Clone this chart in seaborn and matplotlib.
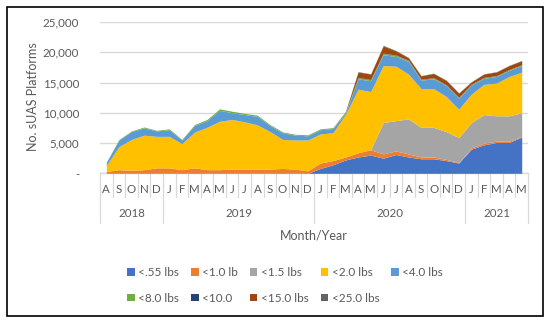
import numpy as np
import pandas as pd
import matplotlib
matplotlib.use("Agg")
import matplotlib.pyplot as plt
import matplotlib.transforms as mtransforms
from matplotlib.patches import Patch, Rectangle
import seaborn as sns

# ---------------- data ----------------
months = ["A", "S", "O", "N", "D",
          "J", "F", "M", "A", "M", "J", "J", "A", "S", "O", "N", "D",
          "J", "F", "M", "A", "M", "J", "J", "A", "S", "O", "N", "D",
          "J", "F", "M", "A", "M"]
years = ["2018", "2019", "2020", "2021"]
year_counts = [5, 12, 12, 5]

series_names = ["<.55 lbs", "<1.0 lb", "<1.5 lbs", "<2.0 lbs", "<4.0 lbs",
                "<8.0 lbs", "<10.0", "<15.0 lbs", "<25.0 lbs"]

lt055 = [0, 0, 0, 0, 0, 0, 0, 0, 0, 0, 0, 0, 0, 0, 0, 0, 0,
         800, 1400, 2200, 2700, 3000, 2500, 3100, 2700, 2400, 2400, 2100, 1700,
         4000, 4700, 5100, 5100, 6000]
lt10 = [300, 600, 500, 600, 900, 900, 600, 900, 600, 600, 700, 700, 700, 700, 800, 700, 400,
        900, 700, 500, 700, 900, 700, 600, 500, 300, 300, 200, 100,
        200, 300, 200, 200, 100]
lt15 = [0, 0, 0, 0, 0, 0, 0, 0, 0, 0, 0, 0, 0, 0, 0, 0, 0,
        0, 0, 0, 0, 0, 5200, 5000, 5800, 4900, 4900, 4600, 4100,
        4200, 4700, 4200, 4200, 3900]
lt20 = [1000, 3800, 5100, 5700, 5200, 5200, 4300, 5900, 7000, 8000, 8200, 7800, 7300, 6200, 4800, 4800, 5100,
        4800, 4600, 7000, 10500, 9600, 9400, 9000, 7400, 6400, 6400, 5800, 4700,
        4700, 5000, 5400, 6500, 6700]
lt40 = [500, 1100, 1300, 1200, 900, 1100, 600, 1100, 1100, 1800, 1100, 1200, 1400, 1000, 1100, 800, 700,
        700, 700, 200, 1700, 1800, 1800, 1600, 2100, 1400, 1600, 1800, 1800,
        1500, 1000, 1100, 1000, 1100]
lt80 = [50, 100, 100, 150, 100, 150, 100, 150, 200, 250, 250, 200, 200, 150, 150, 150, 150,
        150, 150, 200, 200, 150, 200, 200, 150, 100, 150, 100, 100,
        100, 100, 100, 100, 100]
lt100 = [0, 0, 0, 0, 0, 0, 0, 0, 0, 0, 0, 0, 0, 0, 0, 0, 0,
         0, 0, 0, 50, 50, 50, 50, 50, 50, 50, 50, 50,
         50, 50, 50, 50, 50]
lt150 = [0, 0, 0, 0, 0, 0, 0, 0, 0, 0, 0, 0, 0, 0, 0, 0, 0,
         0, 0, 100, 900, 900, 1200, 700, 400, 550, 700, 700, 700,
         350, 550, 600, 650, 650]
lt250 = [0, 0, 0, 0, 0, 0, 0, 0, 0, 0, 0, 0, 0, 0, 0, 0, 0,
         0, 0, 0, 50, 50, 100, 50, 50, 50, 50, 50, 50,
         50, 50, 50, 50, 50]

colors = ["#4472C4", "#ED7D31", "#A5A5A5", "#FFC000", "#5B9BD5",
          "#70AD47", "#264478", "#9E480E", "#636363"]

df = pd.DataFrame({n: v for n, v in zip(series_names,
                  [lt055, lt10, lt15, lt20, lt40, lt80, lt100, lt150, lt250])})

# ---------------- style ----------------
sns.set_theme(style="white")
plt.rcParams["font.family"] = ["Lato", "DejaVu Sans"]
txt = "#595959"
fs = 8.3

W, H = 550, 322
fig = plt.figure(figsize=(W / 100, H / 100), dpi=100)
ax_l, ax_r, ax_t, ax_b = 100, 528, 22, 173.3
ax = fig.add_axes([ax_l / W, 1 - ax_b / H, (ax_r - ax_l) / W, (ax_b - ax_t) / H])

x = np.arange(len(months))
palette = sns.color_palette(colors)
ax.stackplot(x, *[df[c].values for c in series_names], colors=palette,
             labels=series_names, linewidth=0, zorder=3)

ax.set_xlim(-0.5, len(months) - 0.5)
ax.set_ylim(0, 25000)
yt = np.arange(0, 25001, 5000)
ax.set_yticks(yt)
ax.set_yticklabels(["-"] + [f"{v:,}" for v in yt[1:]], fontsize=fs, color=txt)
ax.tick_params(axis="y", length=0, pad=15)
ax.yaxis.grid(True, color="#D9D9D9", linewidth=1, zorder=0)
ax.xaxis.grid(False)
ax.set_xticks([])
sns.despine(ax=ax, left=True, top=True, right=True, bottom=False)
ax.spines["bottom"].set_color("#D9D9D9")
ax.spines["bottom"].set_linewidth(1)

ax_h = ax_b - ax_t
trans = mtransforms.blended_transform_factory(ax.transData, ax.transAxes)
# month separators and labels
for i in range(len(months) + 1):
    ax.plot([i - 0.5, i - 0.5], [0, -24 / ax_h], transform=trans, color="#D9D9D9",
            linewidth=0.9, clip_on=False)
for i, m in enumerate(months):
    ax.text(i, -16.5 / ax_h, m, transform=trans, ha="center", va="center",
            fontsize=fs, color=txt)
# year separators and labels
start = 0
bounds = [0]
for c in year_counts:
    start += c
    bounds.append(start)
for b in bounds:
    ax.plot([b - 0.5, b - 0.5], [-24 / ax_h, -50 / ax_h], transform=trans,
            color="#D9D9D9", linewidth=0.9, clip_on=False)
for y, a, b in zip(years, bounds[:-1], bounds[1:]):
    ax.text((a + b - 1) / 2, -40.5 / ax_h, y, transform=trans, ha="center",
            va="center", fontsize=fs, color=txt)

ax.text(0.5, -62 / ax_h, "Month/Year", transform=ax.transAxes, ha="center",
        va="center", fontsize=9, color=txt)
fig.text(33 / W, 1 - 97 / H, "No. sUAS Platforms", rotation=90, ha="center",
         va="center", fontsize=9, color=txt)

handles = [Patch(facecolor=c, edgecolor="none") for c in colors]
order = [0, 5, 1, 6, 2, 7, 3, 8, 4]
leg = fig.legend([handles[i] for i in order], [series_names[i] for i in order],
                 ncol=5, loc="upper left",
                 bbox_to_anchor=(127 / W, 1 - 267.5 / H), frameon=False,
                 fontsize=8.5, labelcolor=txt, handlelength=0.65, handleheight=0.65,
                 handletextpad=0.3, columnspacing=1.0, labelspacing=1.2,
                 borderpad=0, borderaxespad=0)

fig.patches.append(Rectangle((7 / W, 6 / H), 536 / W, 309 / H, transform=fig.transFigure,
                             fill=False, edgecolor="black", linewidth=1.2))

fig.savefig("out.png", dpi=100)
